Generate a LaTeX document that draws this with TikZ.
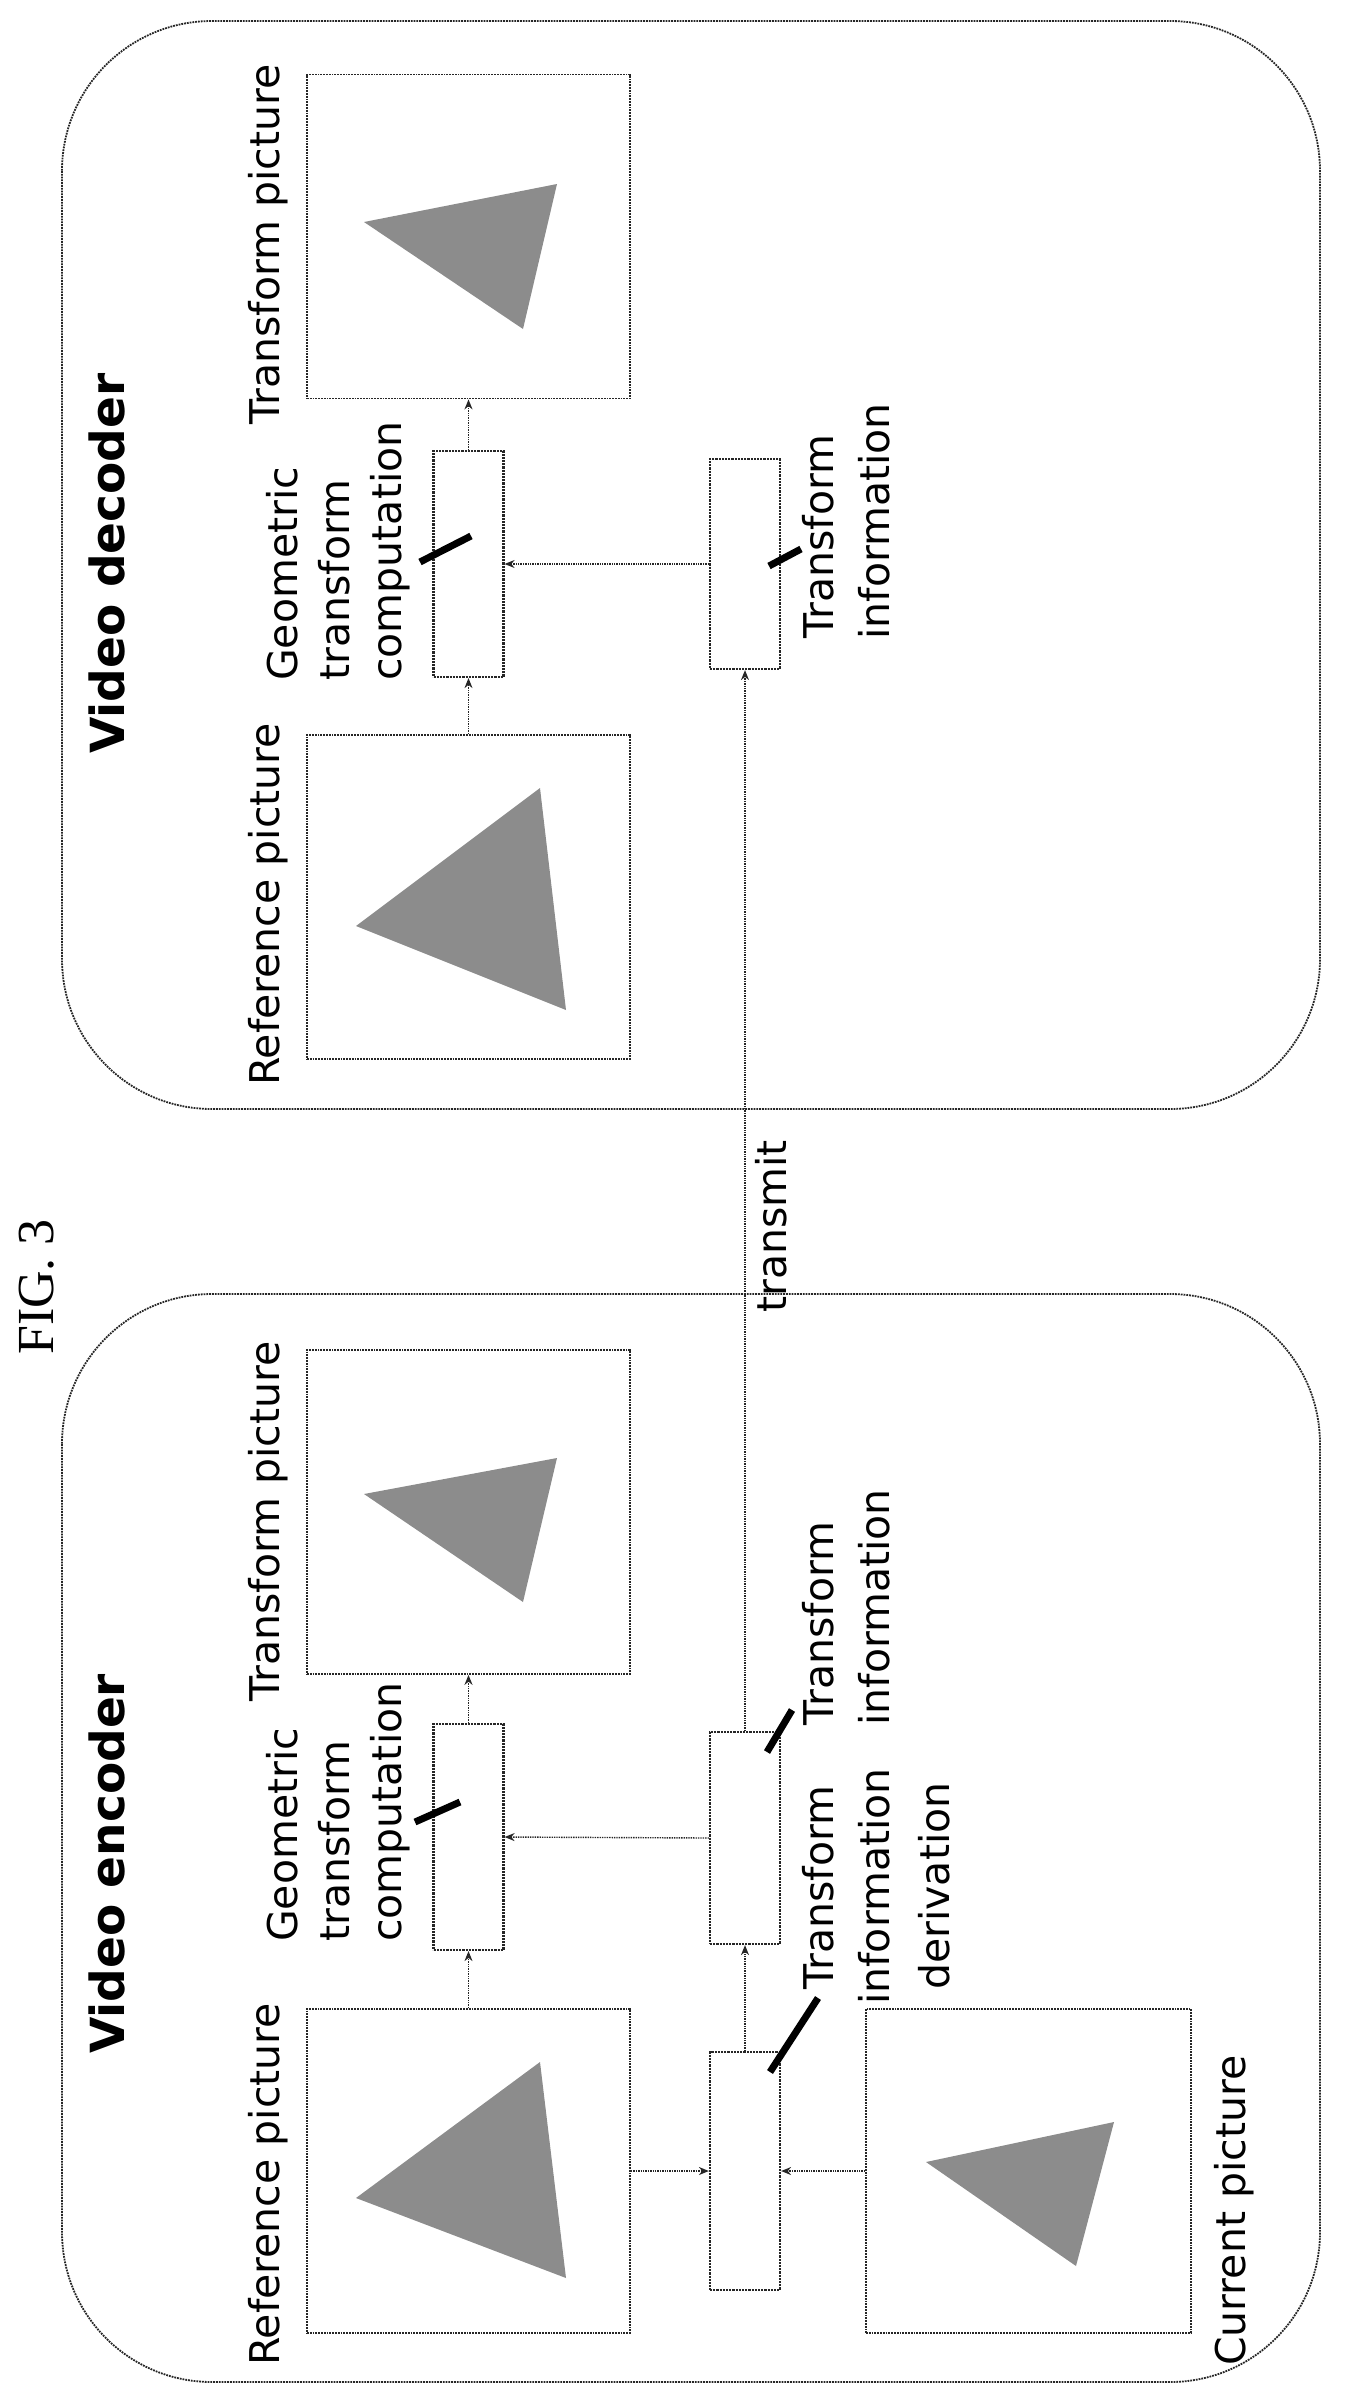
\documentclass[tikz,border=0pt]{standalone}
\usepackage{fontspec}
\setmainfont{Liberation Serif}
\newfontfamily\lab{DejaVu Sans}
\usetikzlibrary{arrows.meta}
\begin{document}
\begin{tikzpicture}[x=1pt,y=-1pt,
  frame/.style={draw=black!85,densely dotted,line width=1.8pt,rounded corners=150pt},
  pic/.style={draw=black!85,densely dotted,line width=1.8pt,minimum width=323pt,minimum height=324pt,inner sep=0pt},
  blk/.style={draw=black!85,densely dotted,line width=2.2pt,minimum width=70pt,inner sep=0pt},
  arr/.style={densely dotted,line width=1.4pt,draw=black!85,-{Stealth[length=10pt,width=8pt]}},
  tri/.style={fill=black!45,draw=none},
  slash/.style={line width=7pt,black},
  txt/.style={font=\lab\fontsize{41}{44}\selectfont,rotate=90,anchor=west,inner sep=0pt},
  ttl/.style={font=\lab\bfseries\fontsize{47}{50}\selectfont,rotate=90,anchor=west,inner sep=0pt}]
\useasboundingbox (0,0) rectangle (1344,2404);
% ---------- decoder ----------
\draw[frame] (62,21) rectangle (1320,1109);
\node[ttl] (tD) at (107,754) {Video decoder};
\node[pic] (trD) at (468.5,236.5) {};
\node[pic] (refD) at (468.5,897) {};
\node[blk,minimum height=226pt] (geoD) at (468.5,564) {};
\node[blk,minimum height=210pt] (infD) at (745,564) {};
\fill[tri] (356,926) -- (540,788) -- (566,1010) -- cycle;
\fill[tri] (364,222) -- (557,184) -- (523,329) -- cycle;
\node[txt] (lRefD) at (268,1086) {Reference picture};
\node[txt] (lTrD) at (268,425) {Transform picture};
\node[txt] (lG1D) at (282,681) {Geometric};
\node[txt] (lG2D) at (334,681) {transform};
\node[txt] (lG3D) at (390,681) {computation};
\node[txt] (lI1D) at (818,639) {Transform};
\node[txt] (lI2D) at (874,640) {information};
\draw[arr] (refD.north) -- (geoD.south);
\draw[arr] (geoD.north) -- (trD.south);
\draw[arr] (infD.west) -- (geoD.east);
\draw[slash] (420,562) -- (471,536);
\draw[slash] (769,566) -- (801,549);
% ---------- encoder ----------
\draw[frame] (62,1294) rectangle (1320,2382);
\node[ttl] (tE) at (107,2054) {Video encoder};
\node[pic] (trE) at (468.5,1512) {};
\node[pic] (refE) at (468.5,2171) {};
\node[pic,minimum width=325pt] (curE) at (1028.5,2171) {};
\node[blk,minimum height=226pt] (geoE) at (468.5,1837) {};
\node[blk,minimum height=212pt] (infE) at (745,1838) {};
\node[blk,minimum height=238pt] (derE) at (745,2171) {};
\fill[tri] (356,2198) -- (540,2062) -- (566,2278) -- cycle;
\fill[tri] (364,1494) -- (557,1458) -- (523,1602) -- cycle;
\fill[tri] (926,2162) -- (1114,2122) -- (1076,2266) -- cycle;
\node[txt] (lRefE) at (268,2366) {Reference picture};
\node[txt] (lTrE) at (268,1702) {Transform picture};
\node[txt] (lCurE) at (1234,2366) {Current picture};
\node[txt] (lG1E) at (282,1942) {Geometric};
\node[txt] (lG2E) at (334,1942) {transform};
\node[txt] (lG3E) at (390,1942) {computation};
\node[txt] (lI1E) at (818,1726) {Transform};
\node[txt] (lI2E) at (874,1726) {information};
\node[txt] (lD1E) at (818,1990) {Transform};
\node[txt] (lD2E) at (874,2005) {information};
\node[txt] (lD3E) at (934,1990) {derivation};
\draw[arr] (refE.north) -- (geoE.south);
\draw[arr] (geoE.north) -- (trE.south);
\draw[arr] (infE.west) -- (geoE.east);
\draw[arr] (refE.east) -- (derE.west);
\draw[arr] (curE.west) -- (derE.east);
\draw[arr] (derE.north) -- (infE.south);
\draw[arr] (infE.north) -- (infD.south);
\draw[slash] (415,1822) -- (460,1802);
\draw[slash] (767,1752) -- (792,1710);
\draw[slash] (770,2072) -- (818,1998);
% ---------- labels between ----------
\node[txt] (lTx) at (771,1313) {transmit};
\node[font=\fontsize{52}{56}\selectfont,rotate=90,anchor=west,inner sep=0pt] (fig) at (37,1355) {FIG. 3};
\end{tikzpicture}
\end{document}
